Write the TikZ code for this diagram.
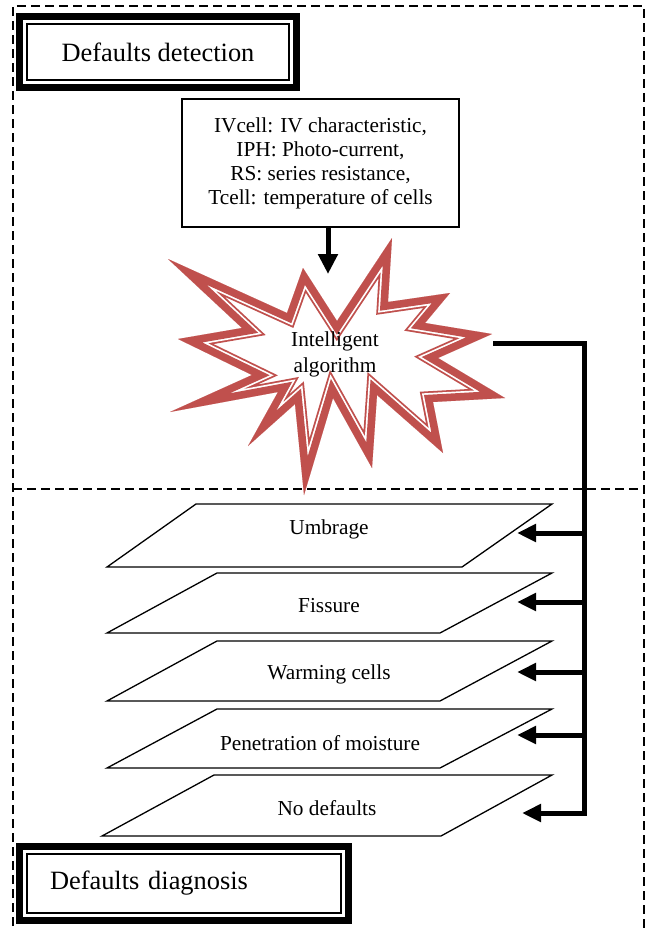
\documentclass[tikz,border=0pt]{standalone}
\usepackage{fontspec}
\setmainfont{Liberation Serif}
\usetikzlibrary{arrows.meta}
\definecolor{burst}{HTML}{C0504D}
\begin{document}
\begin{tikzpicture}[x=1pt,y=-1pt,
  body/.style={font=\fontsize{21.3}{24}\selectfont, align=center, inner sep=0pt},
  titletext/.style={font=\fontsize{26.4}{30}\selectfont, inner sep=0pt},
  region/.style={dash pattern=on 9pt off 5pt, line width=1.8pt},
  para/.style={draw, fill=white, line width=1.3pt, line join=miter},
  bus/.style={line width=5pt, line join=miter},
  busarrow/.style={line width=5pt, -{Triangle[length=19pt,width=17pt]}},
  thickframe/.style={line width=7pt},
  thinframe/.style={line width=1.8pt},
  burstline/.style={line join=miter, miter limit=40}
]
\useasboundingbox (0,0) rectangle (652,931);
\clip (0,0) rectangle (652,931);

% dashed regions
\draw[region] (13,940) -- (13,6) -- (644,6) -- (644,940);
\draw[region] (13,489) -- (644,489);

% title: Defaults detection
\node[titletext, minimum width=284pt, minimum height=78pt] (det) at (158,52) {Defaults detection};
\draw[thickframe] ([shift={(3.5,3.5)}]det.north west) rectangle ([shift={(-3.5,-3.5)}]det.south east);
\draw[thinframe] ([shift={(11.5,11.5)}]det.north west) rectangle ([shift={(-11.5,-11.5)}]det.south east);

% info box
\node[body, draw, line width=1.3pt, minimum width=277pt, minimum height=128pt] (info) at (320.5,163)
  {IVcell: IV characteristic,\\IPH: Photo-current,\\RS: series resistance,\\Tcell: temperature of cells};

% starburst
\def\burstP{(168,259) -- (287,313) -- (303,268) -- (337,321) -- (392,238) -- (388,302) -- (450,293) -- (425,323) -- (492,334) -- (438,358) -- (505,398) -- (433,402) -- (443,453) -- (377,395) -- (372,468) -- (333,398) -- (304,495) -- (295,404) -- (248,446) -- (278,392) -- (170,412) -- (252,375) -- (178,339) -- (242,328) -- cycle}
\begin{scope}
  \clip \burstP;
  \fill[white] \burstP;
  \draw[burst, line width=22pt, burstline] \burstP;
  \draw[white, line width=18.4pt, burstline] \burstP;
  \draw[burst, line width=15pt, burstline] \burstP;
\end{scope}
\node[body, font=\fontsize{21.3}{26}\selectfont] (alg) at (335,354) {Intelligent\\algorithm};

% arrow info -> algorithm
\coordinate (algtop) at (328,274);
\draw[line width=5pt, -{Triangle[length=20pt,width=19pt]}] (info.south -| algtop) -- (algtop);

% parallelograms
\draw[para] (196,504) -- (552,504) -- (462,567) -- (107,567) -- cycle;
\draw[para] (217,573) -- (552,573) -- (440,633) -- (107,633) -- cycle;
\draw[para] (217,641) -- (552,641) -- (440,701) -- (107,701) -- cycle;
\draw[para] (217,709) -- (552,709) -- (440,768) -- (107,768) -- cycle;
\draw[para] (214,775) -- (552,775) -- (441,836) -- (102,836) -- cycle;

\node[body] (d1) at (329,529) {Umbrage};
\node[body] (d2) at (329,606) {Fissure};
\node[body] (d3) at (329,674) {Warming cells};
\node[body] (d4) at (320,743) {Penetration of moisture};
\node[body] (d5) at (327,808) {No defaults};

% bus connector
\coordinate (starE) at (493,343);
\coordinate (busTop) at (584,343);
\coordinate (busBot) at (584,816);
\draw[bus] (starE) -- (busTop) -- (busBot);

\coordinate (b1) at (584,533); \coordinate (t1) at (517,533);
\coordinate (b2) at (584,602); \coordinate (t2) at (517,602);
\coordinate (b3) at (584,672); \coordinate (t3) at (517,672);
\coordinate (b4) at (584,735); \coordinate (t4) at (517,735);
\coordinate (b5) at (586.5,813); \coordinate (t5) at (522,813);
\foreach \i in {1,...,5} { \draw[busarrow] (b\i) -- (t\i); }

% title: Defaults diagnosis
\node[titletext, minimum width=336pt, minimum height=81pt, text width=268pt, align=left] (diag) at (184,883.5) {Defaults diagnosis};
\draw[thickframe] ([shift={(3.5,3.5)}]diag.north west) rectangle ([shift={(-3.5,-3.5)}]diag.south east);
\draw[thinframe] ([shift={(11.5,11.5)}]diag.north west) rectangle ([shift={(-11.5,-11.5)}]diag.south east);
\end{tikzpicture}
\end{document}
